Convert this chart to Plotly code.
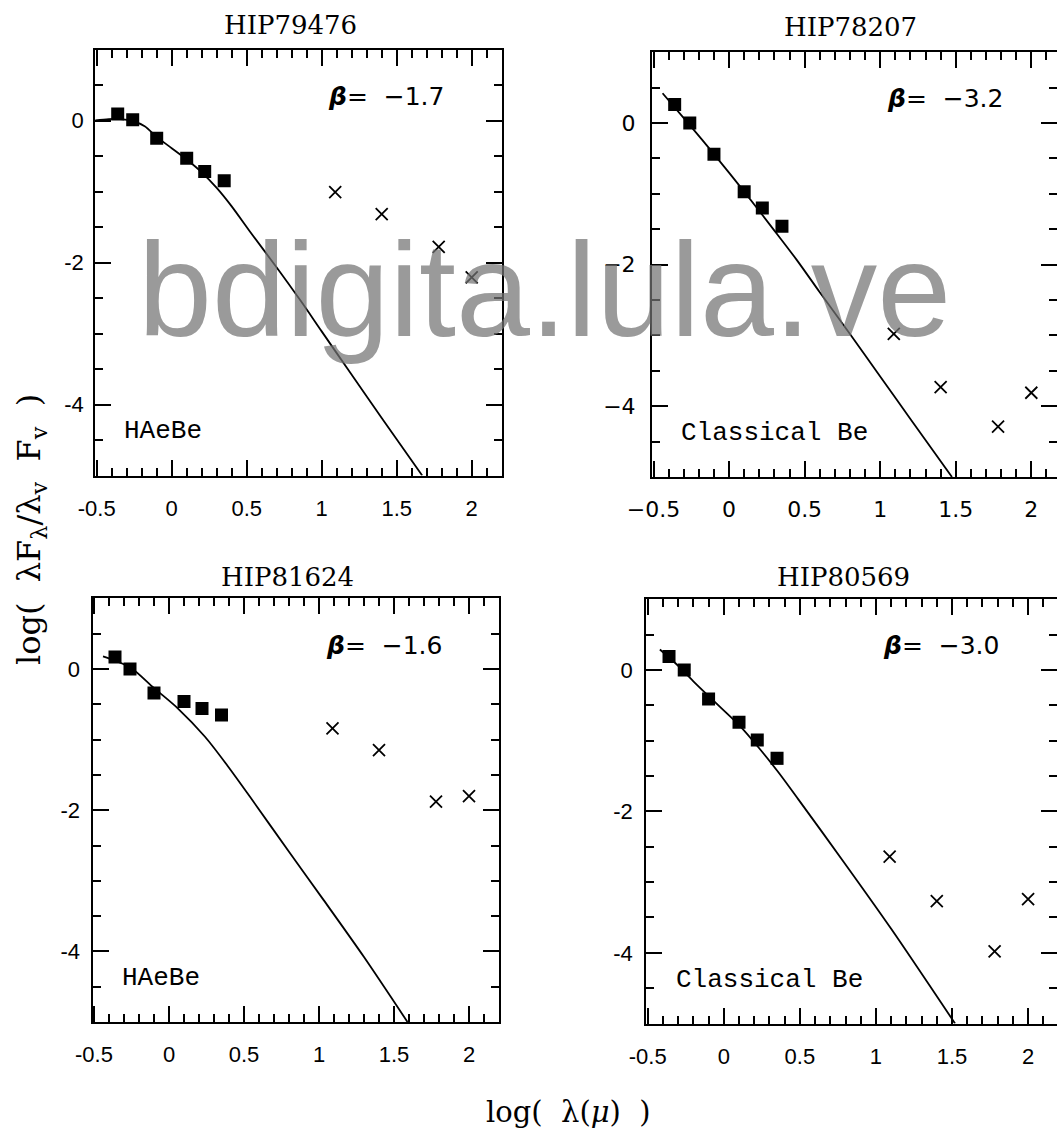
import plotly.graph_objects as go

# ---------------- data ----------------
log_lambda_phot = [-0.36, -0.26, -0.10, 0.10, 0.22, 0.35]   # B V I J H K
log_lambda_iras = [1.09, 1.40, 1.78, 2.00]                  # IRAS 12 25 60 100

hip79476_phot = [0.09, 0.01, -0.25, -0.53, -0.72, -0.85]
hip79476_iras = [-1.01, -1.32, -1.78, -2.21]
hip79476_model_x = [-0.51, -0.42, -0.34, -0.26, -0.18, -0.10, 0.00, 0.10, 0.20, 0.30, 0.40, 0.52, 0.70, 0.86, 1.00, 1.17, 1.40, 1.67]
hip79476_model_y = [0.00, 0.02, 0.02, -0.01, -0.08, -0.23, -0.39, -0.55, -0.73, -0.95, -1.21, -1.56, -2.07, -2.54, -2.97, -3.49, -4.19, -5.00]

hip78207_phot = [0.26, 0.00, -0.44, -0.97, -1.20, -1.46]
hip78207_iras = [-2.98, -3.73, -4.29, -3.81]
hip78207_model_x = [-0.44, -0.26, -0.10, 0.10, 0.30, 0.45, 0.60, 0.80, 1.00, 1.20, 1.475]
hip78207_model_y = [0.42, -0.03, -0.44, -0.97, -1.52, -1.94, -2.39, -2.98, -3.58, -4.18, -5.00]

hip81624_phot = [0.17, 0.00, -0.34, -0.46, -0.56, -0.65]
hip81624_iras = [-0.84, -1.15, -1.88, -1.80]
hip81624_model_x = [-0.44, -0.35, -0.25, -0.10, 0.06, 0.24, 0.39, 0.54, 0.80, 1.03, 1.30, 1.59]
hip81624_model_y = [0.18, 0.11, 0.01, -0.27, -0.56, -0.96, -1.37, -1.81, -2.59, -3.27, -4.08, -5.00]

hip80569_phot = [0.19, 0.00, -0.41, -0.74, -0.99, -1.25]
hip80569_iras = [-2.64, -3.27, -3.98, -3.24]
hip80569_model_x = [-0.42, -0.30, -0.20, -0.07, 0.11, 0.23, 0.36, 0.49, 0.80, 1.10, 1.52]
hip80569_model_y = [0.29, 0.06, -0.16, -0.43, -0.80, -1.10, -1.45, -1.83, -2.75, -3.66, -5.00]

star_names = ["HIP79476", "HIP78207", "HIP81624", "HIP80569"]
star_classes = ["HAeBe", "Classical Be", "HAeBe", "Classical Be"]
beta_values = ["\u22121.7", "\u22123.2", "\u22121.6", "\u22123.0"]

x_tickvals = [-0.5, 0, 0.5, 1, 1.5, 2]
x_ticktext_hyphen = ["-0.5", "0", "0.5", "1", "1.5", "2"]
x_ticktext_minus = ["\u22120.5", "0", "0.5", "1", "1.5", "2"]
y_tickvals = [-4, -2, 0]
y_ticktext_hyphen = ["-4", "-2", "0"]
y_ticktext_minus = ["\u22124", "\u22122", "0"]

# ---------------- layout geometry ----------------
W, H = 1057, 1140
panels = [
    dict(l=95.2, r=501.7, t=49.5, b=475.5, xmax=2.20, ystand=5),
    dict(l=652.0, r=1057.0, t=52.2, b=477.0, xmax=2.17, ystand=10),
    dict(l=92.5, r=499.0, t=598.4, b=1022.0, xmax=2.20, ystand=6),
    dict(l=646.2, r=1057.0, t=599.3, b=1023.5, xmax=2.19, ystand=7),
]
phot = [hip79476_phot, hip78207_phot, hip81624_phot, hip80569_phot]
iras = [hip79476_iras, hip78207_iras, hip81624_iras, hip80569_iras]
mx = [hip79476_model_x, hip78207_model_x, hip81624_model_x, hip80569_model_x]
my = [hip79476_model_y, hip78207_model_y, hip81624_model_y, hip80569_model_y]

fig = go.Figure()
layout = dict(width=W, height=H, margin=dict(l=0, r=0, t=0, b=0, autoexpand=False),
              paper_bgcolor="white", plot_bgcolor="white", showlegend=False)
annotations = []

sans = "Liberation Sans, Arial, sans-serif"
serif = "DejaVu Serif, serif"
mono = "Liberation Mono, Courier New, monospace"

for i, p in enumerate(panels):
    k = "" if i == 0 else str(i + 1)
    xa, ya = "x" + k, "y" + k
    fig.add_trace(go.Scatter(x=mx[i], y=my[i], mode="lines", xaxis=xa, yaxis=ya,
                             line=dict(color="black", width=1.8, shape="spline", smoothing=0.8)))
    fig.add_trace(go.Scatter(x=log_lambda_phot, y=phot[i], mode="markers", xaxis=xa, yaxis=ya,
                             marker=dict(symbol="square", size=13, color="black")))
    fig.add_trace(go.Scatter(x=log_lambda_iras, y=iras[i], mode="markers", xaxis=xa, yaxis=ya,
                             marker=dict(symbol="x-thin", size=12, color="black",
                                         line=dict(color="black", width=1.8))))
    alt = (i == 1)
    tickfont = dict(family="DejaVu Sans, sans-serif" if alt else sans, size=22, color="black")
    common = dict(showline=True, linecolor="black", linewidth=2, mirror="ticks",
                  ticks="inside", ticklen=16, tickwidth=1.5, tickcolor="black",
                  showgrid=False, zeroline=False, tickfont=tickfont, automargin=False)
    layout["xaxis" + k] = dict(common, domain=[p["l"] / W, p["r"] / W], range=[-0.51, p["xmax"]],
                               anchor=ya, tickmode="array", tickvals=x_tickvals,
                               ticktext=x_ticktext_minus if alt else x_ticktext_hyphen,
                               ticklabelstandoff=12,
                               minor=dict(ticks="inside", ticklen=8, tickwidth=1.5, tickcolor="black",
                                          tickmode="linear", tick0=0, dtick=0.1, showgrid=False))
    layout["yaxis" + k] = dict(common, domain=[1 - p["b"] / H, 1 - p["t"] / H], range=[-5, 1],
                               anchor=xa, tickmode="array", tickvals=y_tickvals,
                               ticktext=y_ticktext_minus if alt else y_ticktext_hyphen,
                               ticklabelstandoff=p["ystand"],
                               minor=dict(ticks="inside", ticklen=8, tickwidth=1.5, tickcolor="black",
                                          tickmode="linear", tick0=0, dtick=0.5, showgrid=False))
    # beta label and class label
    annotations.append(dict(x=1.03, y=0.34, xref=xa, yref=ya, xanchor="left", yanchor="middle",
                            text="<b><i>\u03b2</i></b>=  " + beta_values[i], showarrow=False,
                            font=dict(family="DejaVu Sans, sans-serif", size=25, color="black")))
    annotations.append(dict(x=-0.33, y=-4.38, xref=xa, yref=ya, xanchor="left", yanchor="middle",
                            text=star_classes[i], showarrow=False,
                            font=dict(family=mono, size=26, color="black")))

title_pos = [(290, 25), (850, 27), (287, 577), (843, 577)]
for name, (px, py) in zip(star_names, title_pos):
    annotations.append(dict(x=px / W, y=1 - py / H, xref="paper", yref="paper",
                            xanchor="center", yanchor="middle", text=name, showarrow=False,
                            font=dict(family=serif, size=26, color="black")))

annotations.append(dict(x=31 / W, y=1 - 530 / H, xref="paper", yref="paper", textangle=-90,
                        xanchor="center", yanchor="middle", showarrow=False,
                        text="log(  \u03bbF<sub>\u03bb</sub>/\u03bb<sub>v</sub>  F<sub>v</sub>  )",
                        font=dict(family=serif, size=32, color="black")))
annotations.append(dict(x=568 / W, y=1 - 1112 / H, xref="paper", yref="paper",
                        xanchor="center", yanchor="middle", showarrow=False,
                        text="log(  \u03bb(<i>\u03bc</i>)  )",
                        font=dict(family=serif, size=29, color="black")))
# watermark
annotations.append(dict(x=544 / W, y=1 - 290 / H, xref="paper", yref="paper",
                        xanchor="center", yanchor="middle", showarrow=False,
                        text="bdigita.lula.ve",
                        font=dict(family=sans, size=133, color="rgba(115,115,115,0.72)")))

layout["annotations"] = annotations
fig.update_layout(**layout)
fig.write_html("out.html")
